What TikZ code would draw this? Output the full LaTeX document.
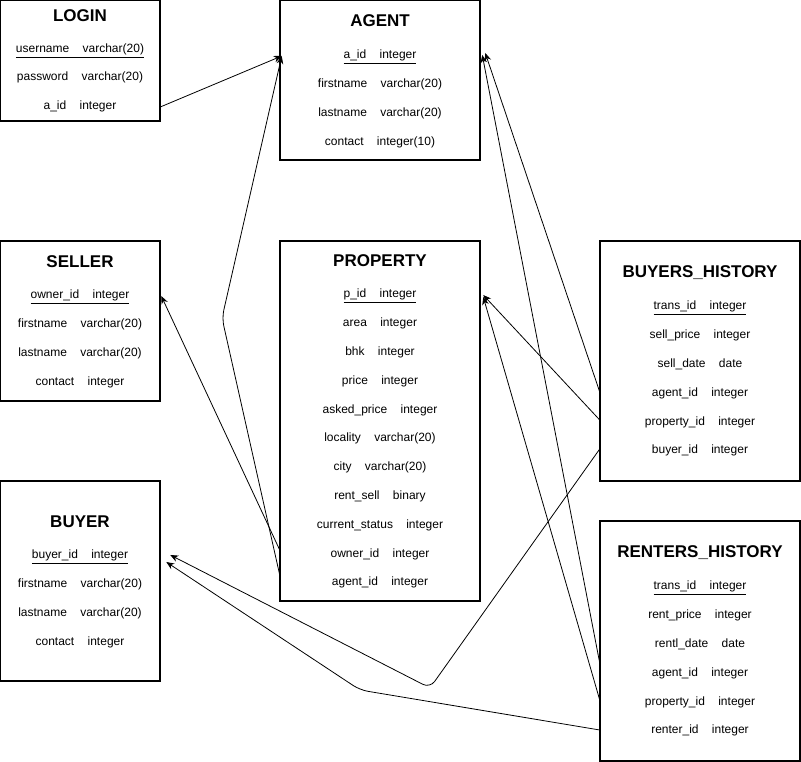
\documentclass[tikz,border=0pt]{standalone}
\usepackage{fontspec}
\setmainfont{Liberation Sans}
\usetikzlibrary{arrows.meta}
\newcommand\fgap{\hspace{10pt}}
\tikzset{
  tbl/.style={draw, line width=0.8pt, inner sep=0pt},
  ttl/.style={inner sep=0pt, font=\fontsize{12.75pt}{14pt}\selectfont\bfseries},
  row/.style={inner sep=0pt, yshift=-1.5pt, text height=7pt, text depth=2.5pt, font=\fontsize{9pt}{10pt}\selectfont},
  narrow/.style={row, minimum width=120pt},
  wide/.style={row, minimum width=150pt},
  fk/.style={draw, line width=0.6pt, -{Stealth[length=6pt,width=5pt]}, rounded corners=6pt},
}
\begin{document}
\begin{tikzpicture}[x=0.75pt, y=-0.75pt]
\useasboundingbox (0,0) rectangle (801,762);
% tables
\node[tbl, minimum width=120pt, minimum height=90.75pt] (login) at (80,60.5) {};
\node[tbl, minimum width=150pt, minimum height=120pt] (agent) at (380,80) {};
\node[tbl, minimum width=120pt, minimum height=120pt] (seller) at (80,321) {};
\node[tbl, minimum width=150pt, minimum height=270pt] (property) at (380,421) {};
\node[tbl, minimum width=120pt, minimum height=150pt] (buyer) at (80,581) {};
\node[tbl, minimum width=150pt, minimum height=180pt] (bhist) at (700,361) {};
\node[tbl, minimum width=150pt, minimum height=180pt] (rhist) at (700,641) {};
% LOGIN
\node[ttl] (login-t) at (80,16) {LOGIN};
\node[narrow] (login-user) at (80,48) {\underline{username\fgap varchar(20)}};
\node[narrow] (login-pass) at (80,76) {password\fgap varchar(20)};
\node[narrow] (login-aid) at (80,105) {a\_id\fgap integer};
% AGENT
\node[ttl] (agent-t) at (380,21) {AGENT};
\node[wide] (agent-aid) at (380,54) {\underline{a\_id\fgap integer}};
\node[wide] (agent-fn) at (380,83) {firstname\fgap varchar(20)};
\node[wide] (agent-ln) at (380,112) {lastname\fgap varchar(20)};
\node[wide] (agent-ct) at (380,141) {contact\fgap integer(10)};
% SELLER
\node[ttl] (seller-t) at (80,262) {SELLER};
\node[narrow] (seller-oid) at (80,294) {\underline{owner\_id\fgap integer}};
\node[narrow] (seller-fn) at (80,323) {firstname\fgap varchar(20)};
\node[narrow] (seller-ln) at (80,352) {lastname\fgap varchar(20)};
\node[narrow] (seller-ct) at (80,381) {contact\fgap integer};
% PROPERTY
\node[ttl] (property-t) at (380,261) {PROPERTY};
\node[wide] (property-pid) at (380,293) {\underline{p\_id\fgap integer}};
\node[wide] (property-area) at (380,322) {area\fgap integer};
\node[wide] (property-bhk) at (380,351) {bhk\fgap integer};
\node[wide] (property-price) at (380,380) {price\fgap integer};
\node[wide] (property-ask) at (380,409) {asked\_price\fgap integer};
\node[wide] (property-loc) at (380,437) {locality\fgap varchar(20)};
\node[wide] (property-city) at (380,466) {city\fgap varchar(20)};
\node[wide] (property-rs) at (380,495) {rent\_sell\fgap binary};
\node[wide] (property-cs) at (380,524) {current\_status\fgap integer};
\node[wide] (property-oid) at (380,553) {owner\_id\fgap integer};
\node[wide] (property-aid) at (380,581) {agent\_id\fgap integer};
% BUYER
\node[ttl] (buyer-t) at (80,522) {BUYER};
\node[narrow] (buyer-bid) at (80,554) {\underline{buyer\_id\fgap integer}};
\node[narrow] (buyer-fn) at (80,583) {firstname\fgap varchar(20)};
\node[narrow] (buyer-ln) at (80,612) {lastname\fgap varchar(20)};
\node[narrow] (buyer-ct) at (80,641) {contact\fgap integer};
% BUYERS_HISTORY
\node[ttl] (bhist-t) at (700,273) {BUYERS\_HISTORY};
\node[wide] (bhist-tid) at (700,305) {\underline{trans\_id\fgap integer}};
\node[wide] (bhist-sp) at (700,334) {sell\_price\fgap integer};
\node[wide] (bhist-sd) at (700,363) {sell\_date\fgap date};
\node[wide] (bhist-aid) at (700,392) {agent\_id\fgap integer};
\node[wide] (bhist-pid) at (700,421) {property\_id\fgap integer};
\node[wide] (bhist-bid) at (700,449) {buyer\_id\fgap integer};
% RENTERS_HISTORY
\node[ttl] (rhist-t) at (700,553) {RENTERS\_HISTORY};
\node[wide] (rhist-tid) at (700,585) {\underline{trans\_id\fgap integer}};
\node[wide] (rhist-rp) at (700,614) {rent\_price\fgap integer};
\node[wide] (rhist-rd) at (700,643) {rentl\_date\fgap date};
\node[wide] (rhist-aid) at (700,672) {agent\_id\fgap integer};
\node[wide] (rhist-pid) at (700,701) {property\_id\fgap integer};
\node[wide] (rhist-rid) at (700,729) {renter\_id\fgap integer};
% bend points
\coordinate (bend-pa) at (222,318);
\coordinate (bend-bb) at (430,688);
\coordinate (bend-rb) at (360,690);
% connectors
\draw[fk] (login-aid.east) -- ([shift={(2,0)}]agent-aid.west);
\draw[fk] ([shift={(0,-8)}]property-aid.west) -- (bend-pa) -- ([shift={(2,0)}]agent-aid.west);
\draw[fk] ([shift={(0,-5)}]property-oid.west) -- ([shift={(1,0)}]seller-oid.east);
\draw[fk] ([shift={(0,-2)}]bhist-aid.west) -- ([shift={(5,-3)}]agent-aid.east);
\draw[fk] ([shift={(0,-11)}]rhist-aid.west) -- ([shift={(2,-1)}]agent-aid.east);
\draw[fk] ([shift={(0,-3)}]bhist-pid.west) -- ([shift={(3,0)}]property-pid.east);
\draw[fk] ([shift={(0,-3)}]rhist-pid.west) -- ([shift={(3,2)}]property-pid.east);
\draw[fk] ([shift={(0,-2)}]bhist-bid.west) -- (bend-bb) -- ([shift={(10,-1)}]buyer-bid.east);
\draw[fk] ([shift={(0,-1)}]rhist-rid.west) -- (bend-rb) -- ([shift={(6,6)}]buyer-bid.east);
\end{tikzpicture}
\end{document}
